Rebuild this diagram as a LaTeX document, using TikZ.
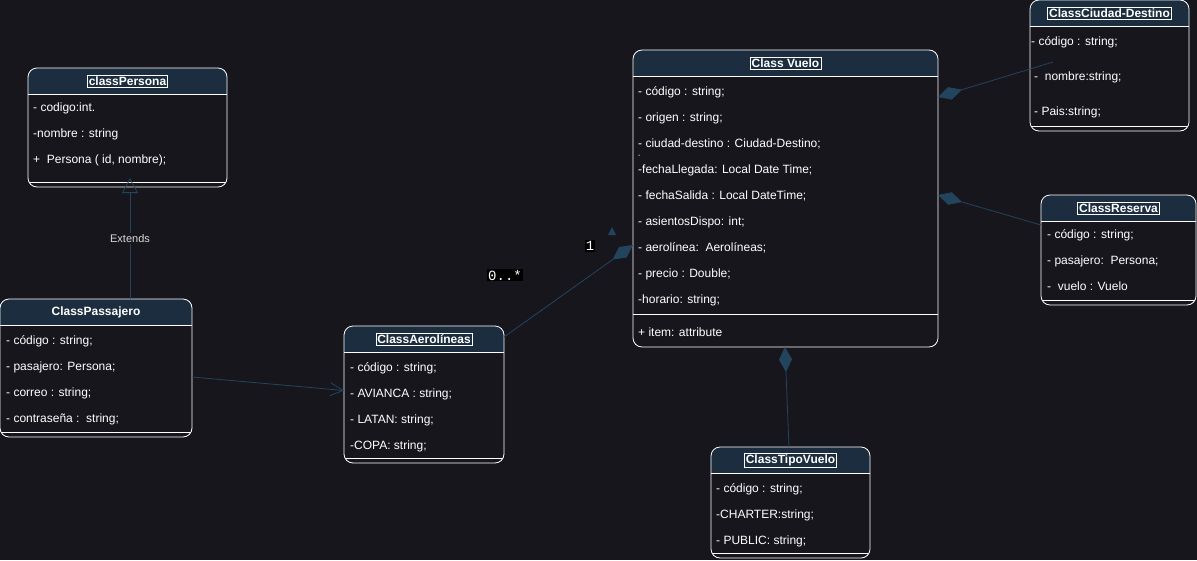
\documentclass[tikz,border=0pt]{standalone}
\usepackage{fontspec}
\setmainfont{Liberation Sans}
\setmonofont{Liberation Mono}
\usetikzlibrary{arrows.meta, positioning}
\definecolor{bgdark}{RGB}{24,22,29}
\definecolor{headfill}{RGB}{27,45,62}
\definecolor{linecol}{RGB}{35,68,93}
\tikzset{
    classbox/.style={draw=white, line width=0.8pt, rounded corners=9pt, anchor=north west, inner sep=0pt, outer sep=0pt,
        path picture={
            \fill[headfill, sharp corners] (path picture bounding box.north west) rectangle ([yshift=-26pt]path picture bounding box.north east);
            \draw[white, sharp corners] ([yshift=-26pt]path picture bounding box.north west) -- ([yshift=-26pt]path picture bounding box.north east);
            \draw[white, sharp corners] ([yshift=#1]path picture bounding box.south west) -- ([yshift=#1]path picture bounding box.south east);
        }},
    classbox/.default=4.5pt,
    title/.style={draw=white, line width=0.6pt, inner sep=1.5pt, text=white, font=\bfseries\fontsize{12}{14}\selectfont},
    attr/.style={anchor=west, inner sep=0pt, text height=11pt, text depth=1pt, text=white, font=\fontsize{12}{14}\selectfont},
    line/.style={draw=linecol, line width=0.8pt},
    gen/.style={line, -{Triangle[open, length=15pt, width=16pt]}},
    assoc/.style={line, -{Straight Barb[length=13pt, width=13pt]}},
    comp/.style={line, -{Diamond[length=25pt, width=13pt, fill=linecol]}},
    mult/.style={fill=black, text=white, inner sep=1pt, font=\ttfamily\fontsize{14}{16}\selectfont},
    extlabel/.style={fill=bgdark, text=white!85!black, inner sep=1pt, font=\fontsize{11}{13}\selectfont}
}

\begin{document}
\begin{tikzpicture}[x=1pt, y=-1pt]

    \fill[bgdark] (0,0) rectangle (1197,560);
    \useasboundingbox (0,0) rectangle (1197,560);

    % classPersona
    \node[classbox, minimum width=199pt, minimum height=119pt] (persona) at (28,68) {};
    \node[title] (personaTitle) at ([yshift=-13pt]persona.north) {classPersona};
    \node[attr] (persona1) at (33,106) {- codigo:int.};
    \node[attr] (persona2) at (33,132) {-nombre : string};
    \node[attr] (persona3) at (33,158) {+\ \ Persona ( id, nombre);};

    % ClassPassajero
    \node[classbox, minimum width=192pt, minimum height=138pt] (passajero) at (0,299) {};
    \node[title, draw=none] (passajeroTitle) at ([yshift=-13pt]passajero.north) {ClassPassajero};
    \node[attr] (passajero1) at (6,339) {- código : string;};
    \node[attr] (passajero2) at (6,365) {- pasajero: Persona;};
    \node[attr] (passajero3) at (6,391) {- correo : string;};
    \node[attr] (passajero4) at (6,417) {- contraseña :\ \ string;};

    % ClassAerolineas
    \node[classbox, minimum width=160pt, minimum height=137pt] (aerol) at (344,326) {};
    \node[title] (aerolTitle) at ([yshift=-13pt]aerol.north) {ClassAerolíneas};
    \node[attr] (aerol1) at (350,366) {- código : string;};
    \node[attr] (aerol2) at (350,392) {- AVIANCA : string;};
    \node[attr] (aerol3) at (350,418) {- LATAN: string;};
    \node[attr] (aerol4) at (350,444) {-COPA: string;};

    % Class Vuelo
    \node[classbox=33pt, minimum width=305pt, minimum height=297pt] (vuelo) at (633,50) {};
    \node[title] (vueloTitle) at ([yshift=-13pt]vuelo.north) {Class Vuelo};
    \node[attr] (vuelo1) at (638,90) {- código : string;};
    \node[attr] (vuelo2) at (638,116) {- origen : string;};
    \node[attr] (vuelo3) at (638,142) {- ciudad-destino : Ciudad-Destino;};
    \node[attr, font=\fontsize{7}{8}\selectfont] (vueloDash) at (638,152) {-};
    \node[attr] (vuelo4) at (638,168) {-fechaLlegada: Local Date Time;};
    \node[attr] (vuelo5) at (638,194) {- fechaSalida : Local DateTime;};
    \node[attr] (vuelo6) at (638,220) {- asientosDispo: int;};
    \node[attr] (vuelo7) at (638,246) {- aerolínea:\ \ Aerolíneas;};
    \node[attr] (vuelo8) at (638,272) {- precio : Double;};
    \node[attr] (vuelo9) at (638,298) {-horario: string;};
    \node[attr] (vueloOp) at (638,331) {+ item: attribute};

    % ClassCiudad-Destino
    \node[classbox, minimum width=159pt, minimum height=131pt] (ciudad) at (1030,0) {};
    \node[title] (ciudadTitle) at ([yshift=-13pt]ciudad.north) {ClassCiudad-Destino};
    \node[attr] (ciudad1) at (1031,40) {- código : string;};
    \node[attr] (ciudad2) at (1034,75) {-\ \ nombre:string;};
    \node[attr] (ciudad3) at (1034,110) {- Pais:string;};

    % ClassReserva
    \node[classbox, minimum width=155pt, minimum height=110pt] (reserva) at (1041,195) {};
    \node[title] (reservaTitle) at ([yshift=-13pt]reserva.north) {ClassReserva};
    \node[attr] (reserva1) at (1047,233) {- código : string;};
    \node[attr] (reserva2) at (1047,259) {- pasajero:\ \ Persona;};
    \node[attr] (reserva3) at (1047,285) {-\ \ vuelo : Vuelo};

    % ClassTipoVuelo
    \node[classbox, minimum width=159pt, minimum height=111pt] (tipo) at (711,447) {};
    \node[title] (tipoTitle) at ([yshift=-13pt]tipo.north) {ClassTipoVuelo};
    \node[attr] (tipo1) at (716,487) {- código : string;};
    \node[attr] (tipo2) at (716,513) {-CHARTER:string;};
    \node[attr] (tipo3) at (716,539) {- PUBLIC: string;};

    % connectors
    \draw[gen] ([xshift=34pt]passajero.north) -- node[extlabel] {Extends} ([xshift=2.5pt, yshift=9pt]persona.south);
    \draw[assoc] ([yshift=-9pt]passajero.east) -- ([yshift=4pt]aerol.west);
    \draw[comp] ([yshift=-11pt]aerol.north east) -- ([yshift=-46.5pt]vuelo.west);
    \node[mult] (manyLabel) at (505,275) {0..*};
    \node[mult] (oneLabel) at (590,246) {1};
    \fill[linecol] (608,235) -- (612,227) -- (616,235) -- cycle;

    \coordinate (ciudadEnd) at (1053,62);
    \draw[comp] (ciudadEnd) -- ([yshift=101.5pt]vuelo.east);
    \draw[comp] ([yshift=25pt]reserva.west) -- ([yshift=3.5pt]vuelo.east);
    \draw[comp] ([xshift=-1.5pt]tipo.north) -- ([xshift=-0.5pt]vuelo.south);

\end{tikzpicture}
\end{document}
